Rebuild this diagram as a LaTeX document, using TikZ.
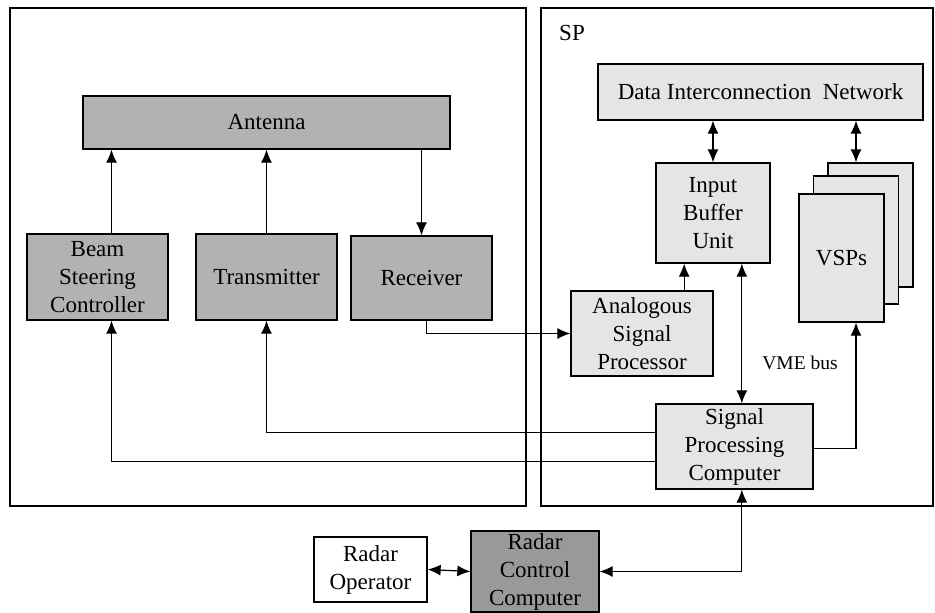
\documentclass[tikz,border=0pt]{standalone}
\usepackage{fontspec}
\setmainfont{Liberation Serif}
\usepackage{xcolor}
\usepackage{tikz}
\usetikzlibrary{arrows.meta, calc}

\begin{document}
\begin{tikzpicture}[
        x=1pt, y=-1pt,
        font=\fontsize{23}{28}\selectfont,
        >={Latex[length=13pt,width=11pt]},
        frame/.style = {
            draw=black,
            line width=1.3pt
        },
        unit/.style = {
            rectangle,
            draw=black,
            line width=1.3pt,
            inner sep=0pt,
            align=center
        },
        radar/.style = {unit, fill=black!30},
        proc/.style = {unit, fill=black!10},
        arrow/.style = {
            ->,
            line width=1.2pt
        },
        both/.style = {
            <->,
            line width=1.2pt
        }
    ]

    \useasboundingbox (0,0) rectangle (935,613);

    % Frames
    \draw[frame] (10,8) rectangle (526,506);
    \draw[frame] (541,8) rectangle (933,506);
    \node at (572,33) {SP};

    % Radar side
    \node[radar, minimum width=367pt, minimum height=53pt] (ant) at (266.5,122.5) {Antenna};
    \node[radar, minimum width=141pt, minimum height=86pt] (bsc) at (97.5,277) {Beam\\Steering\\Controller};
    \node[radar, minimum width=141pt, minimum height=86pt] (tx) at (266.5,277) {Transmitter};
    \node[radar, minimum width=141pt, minimum height=84pt] (rx) at (421.5,278) {Receiver};

    % Signal processor
    \node[proc, minimum width=325pt, minimum height=56pt] (din) at (760.5,92) {Data Interconnection~ Network};
    \node[proc, minimum width=114pt, minimum height=100pt] (ibu) at (713,213) {Input\\Buffer\\Unit};
    \node[proc, minimum width=142pt, minimum height=85pt] (asp) at (642,333.5) {Analogous\\Signal\\Processor};
    \node[proc, minimum width=157pt, minimum height=85pt] (spc) at (734.5,446.5) {Signal\\Processing\\Computer};
    \node[proc, minimum width=85pt, minimum height=124pt] (vspA) at (870.5,225) {};
    \node[proc, minimum width=85pt, minimum height=128pt] (vspB) at (856,240) {};
    \node[proc, minimum width=85pt, minimum height=128pt] (vspC) at (841.5,258) {VSPs};
    \node[font=\fontsize{19.5}{24}\selectfont] (vme) at (800,363) {VME bus};

    % Control
    \node[unit, fill=white, minimum width=113pt, minimum height=65pt] (ro) at (370.5,569.5) {Radar\\Operator};
    \node[unit, fill=black!40, minimum width=128pt, minimum height=81pt] (rcc) at (535,571.5) {Radar\\Control\\Computer};

    % Bus taps
    \coordinate (ibuL) at ($(ibu.south west)!0.25!(ibu.south east)$);
    \coordinate (ibuR) at ($(ibu.south west)!0.75!(ibu.south east)$);

    % Arrows
    \draw[arrow] ([xshift=14pt]bsc.north) -- ([xshift=14pt]bsc.north |- ant.south);
    \draw[arrow] (tx.north) -- (tx.north |- ant.south);
    \draw[arrow] (rx.north |- ant.south) -- (rx.north);
    \draw[arrow] ([xshift=5pt]rx.south) |- (asp.west);
    \draw[arrow] (ibuL |- asp.north) -- (ibuL);
    \draw[both] (ibuR) -- (ibuR |- spc.north);
    \draw[both] (ibu.north) -- (ibu.north |- din.south);
    \draw[both] (vspB.north |- vspA.north) -- (vspB.north |- din.south);
    \draw[arrow] ([yshift=-2pt]spc.east) -| (vspB.south |- vspC.south);
    \draw[arrow] ([yshift=14pt]spc.west) -| (tx.south);
    \draw[arrow] ([yshift=-15pt]spc.west) -| ([xshift=14pt]bsc.south);
    \draw[both] (rcc.east) -| (ibuR |- spc.south);
    \draw[both] (ro.east) -- (rcc.west);

\end{tikzpicture}
\end{document}
